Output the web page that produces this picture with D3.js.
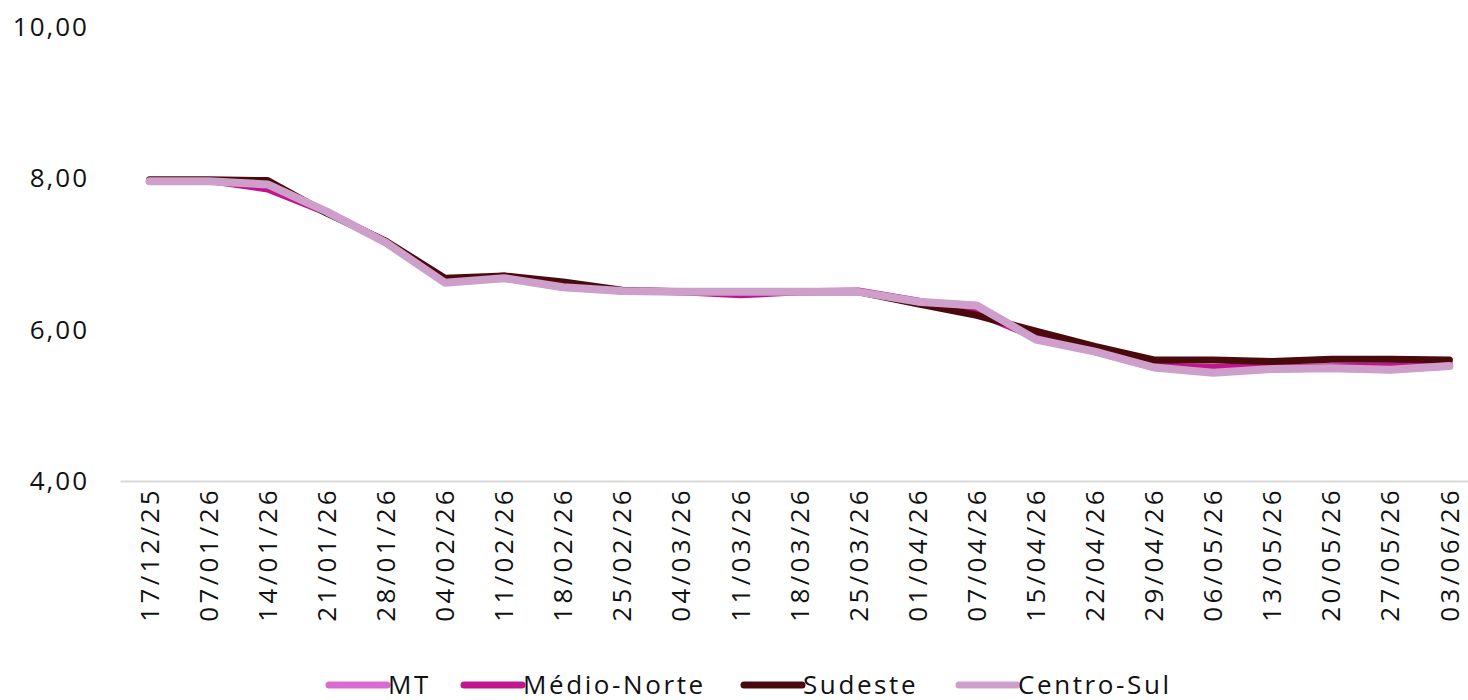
<!DOCTYPE html>
<html><head><meta charset="utf-8">
<script src="https://cdn.jsdelivr.net/npm/d3@7"></script>
<style>body{margin:0;background:#fff}svg{display:block}</style>
</head><body>
<svg id="c" width="1468" height="700"></svg>
<script>
const dates = ["17/12/25","07/01/26","14/01/26","21/01/26","28/01/26","04/02/26","11/02/26","18/02/26","25/02/26","04/03/26","11/03/26","18/03/26","25/03/26","01/04/26","07/04/26","15/04/26","22/04/26","29/04/26","06/05/26","13/05/26","20/05/26","27/05/26","03/06/26"];
const mt          = [7.96,7.96,7.92,7.56,7.16,6.63,6.68,6.56,6.51,6.50,6.50,6.50,6.50,6.37,6.32,5.88,5.71,5.50,5.44,5.48,5.49,5.47,5.52];
const medioNorte  = [7.97,7.97,7.86,7.55,7.16,6.64,6.71,6.58,6.51,6.50,6.46,6.50,6.51,6.38,6.22,5.90,5.72,5.52,5.50,5.50,5.51,5.52,5.54];
const sudeste     = [7.98,7.98,7.97,7.54,7.17,6.68,6.71,6.63,6.52,6.50,6.50,6.50,6.50,6.34,6.19,5.98,5.78,5.60,5.60,5.58,5.61,5.61,5.60];
const centroSul   = [7.96,7.96,7.92,7.56,7.15,6.62,6.68,6.56,6.51,6.50,6.50,6.50,6.50,6.37,6.32,5.87,5.71,5.50,5.43,5.48,5.49,5.47,5.52];
const seriesNames = ["MT","Médio-Norte","Sudeste","Centro-Sul"];
const seriesVals = [mt, medioNorte, sudeste, centroSul];
const colors = ["#d96ad2","#c4138f","#4a0a0c","#cf9fcb"];
const yTicks = [4,6,8,10];

const svg = d3.select("#c");
const font = "'Open Sans', sans-serif";
const ls = "2.6px";
const x = d3.scaleBand().domain(dates).range([120,1479]);
const y = d3.scaleLinear().domain([4,10]).range([481,27]);
const fmt = v => d3.format(".2f")(v).replace(".", ",");

// y labels
svg.append("g").selectAll("text").data(yTicks).join("text")
  .attr("x", 89).attr("y", d => y(d)).attr("dy", "0.35em")
  .attr("text-anchor","end").attr("font-family",font).attr("font-size",26)
  .attr("letter-spacing","2px").attr("fill","#111")
  .text(fmt);

// x axis
const xAxis = svg.append("g").attr("transform","translate(0,481)")
  .call(d3.axisBottom(x).tickSize(0).tickPadding(0));
xAxis.select(".domain").attr("stroke","#d9d9d9").attr("stroke-width",2);
xAxis.selectAll(".tick text")
  .attr("font-family",font).attr("font-size",26).attr("fill","#111")
  .attr("letter-spacing","3.3px")
  .attr("transform","rotate(-90)").attr("text-anchor","end")
  .attr("x",-6).attr("y",0).attr("dy","0.35em");

// lines
const line = d3.line().x((d,i)=>x(dates[i])+x.bandwidth()/2).y(d=>y(d));
const widths = [7,7,7,8];
svg.append("g").selectAll("path").data(seriesVals).join("path")
  .attr("d", line).attr("fill","none")
  .attr("stroke",(d,i)=>colors[i]).attr("stroke-width",(d,i)=>widths[i])
  .attr("stroke-linejoin","round").attr("stroke-linecap","round");

// legend
const legX = [329,464,744,959];
const lg = svg.append("g").selectAll("g").data(seriesNames).join("g")
  .attr("transform",(d,i)=>`translate(${legX[i]},685)`);
lg.append("line").attr("x1",0).attr("x2",58).attr("y1",0).attr("y2",0)
  .attr("stroke",(d,i)=>colors[i]).attr("stroke-width",7).attr("stroke-linecap","round");
lg.append("text").attr("x",59).attr("y",0).attr("dy","0.35em")
  .attr("font-family",font).attr("font-size",26).attr("letter-spacing",ls)
  .attr("fill","#111").text(d=>d);
</script>
</body></html>
